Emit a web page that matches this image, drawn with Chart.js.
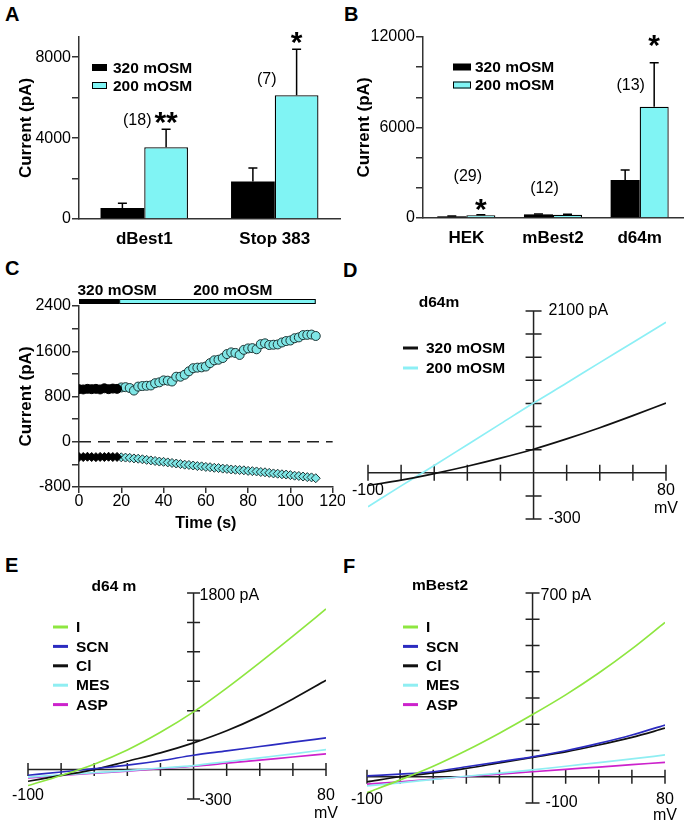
<!DOCTYPE html>
<html>
<head>
<meta charset="utf-8">
<script src="https://cdn.jsdelivr.net/npm/chart.js@4.4.1/dist/chart.umd.min.js"></script>
<style>
body { margin:0; background:#fff; width:687px; height:826px; position:relative; overflow:hidden; }
canvas { position:absolute; }
.letra { position:absolute; font: bold 20px 'Liberation Sans', Arial, sans-serif; line-height:20px; color:#000; }
</style>
</head>
<body>
<div class="letra" style="left:5px;top:4px">A</div>
<div class="letra" style="left:344px;top:4px">B</div>
<div class="letra" style="left:5px;top:258px">C</div>
<div class="letra" style="left:343px;top:260px">D</div>
<div class="letra" style="left:5px;top:555px">E</div>
<div class="letra" style="left:343px;top:556px">F</div>

<canvas id="grafico-a" width="345" height="255" style="left:0;top:0"></canvas>
<canvas id="grafico-b" width="347" height="255" style="left:340px;top:0"></canvas>
<canvas id="grafico-c" width="345" height="275" style="left:0;top:260px"></canvas>
<canvas id="grafico-d" width="347" height="270" style="left:340px;top:260px"></canvas>
<canvas id="grafico-e" width="345" height="286" style="left:0;top:540px"></canvas>
<canvas id="grafico-f" width="347" height="286" style="left:340px;top:540px"></canvas>

<script>
// Painel A
const gruposA = ['dBest1', 'Stop 383'];
const media320A = [550, 1850];
const erro320A = [230, 670];
const media200A = [3550, 6120];
const erro200A = [890, 2280];
const ticksYA = [0, 2000, 4000, 6000, 8000];
const rotulosYA = [0, 4000, 8000];

// Painel B
const gruposB = ['HEK', 'mBest2', 'd64m'];
const media320B = [110, 240, 2520];
const erro320B = [20, 30, 660];
const media200B = [180, 220, 7380];
const erro200B = [40, 30, 2920];
const ticksYB = [0, 2000, 4000, 6000, 8000, 10000, 12000];
const rotulosYB = [0, 6000, 12000];

// Painel C (tempo em s, corrente em pA)
const tempo320 = [0, 2, 4, 6, 8, 10, 12, 14, 16, 18];
const saida320 = [930, 925, 935, 930, 935, 925, 945, 930, 940, 935];
const entrada320 = [-270, -270, -265, -270, -272, -268, -270, -265, -270, -268];
const tempo200 = [20, 22, 24, 26, 28, 30, 32, 34, 36, 38, 40, 42, 44, 46, 48, 50, 52, 54, 56, 58,
    60, 62, 64, 66, 68, 70, 72, 74, 76, 78, 80, 82, 84, 86, 88, 90, 92, 94, 96, 98,
    100, 102, 104, 106, 108, 110, 112];
const saida200 = [960, 965, 950, 905, 975, 985, 990, 995, 1035, 1050, 1085, 1080, 1065, 1150, 1150, 1185, 1245, 1300, 1310, 1315,
    1330, 1390, 1440, 1450, 1480, 1550, 1580, 1570, 1535, 1625, 1650, 1655, 1635, 1725, 1740, 1710, 1715, 1720, 1755, 1780,
    1790, 1830, 1845, 1885, 1890, 1895, 1870];
const entrada200 = [-275, -280, -285, -295, -300, -310, -320, -330, -340, -350, -355, -365, -375, -385, -395, -405, -410, -420, -430, -435,
    -445, -450, -460, -465, -475, -480, -490, -495, -500, -505, -515, -520, -525, -535, -540, -550, -560, -565, -575, -580,
    -590, -600, -605, -615, -625, -630, -645];
const periodos = ['320 mOSM', '200 mOSM'];
const inicioPeriodo = [0, 19];
const fimPeriodo = [19, 112];
const ticksXC = [0, 20, 40, 60, 80, 100, 120];
const ticksYC = [-800, -400, 0, 400, 800, 1200, 1600, 2000, 2400];
const rotulosYC = [-800, 0, 800, 1600, 2400];

// Curvas I-V (mV)
const voltagem = [-100, -80, -60, -40, -20, 0, 20, 40, 60, 80];
const ticksMv = [-100, -80, -60, -40, -20, 0, 20, 40, 60, 80];

// Painel D
const d64m320 = [-165, -95, -10, 85, 190, 306, 440, 585, 742, 905];
const d64m200 = [-440, -170, 95, 365, 635, 905, 1165, 1430, 1690, 1955];
const ticksD = [-600, -300, 0, 300, 600, 900, 1200, 1500, 1800, 2100];

// Painel E (d64 m)
const ionesE = ['I', 'SCN', 'Cl', 'MES', 'ASP'];
const e_I = [-163, -60, 55, 200, 380, 588, 830, 1090, 1360, 1637];
const e_SCN = [-58, -25, 10, 45, 90, 146, 190, 235, 280, 323];
const e_Cl = [-119, -60, 0, 85, 170, 272, 395, 545, 720, 910];
const e_MES = [-78, -55, -32, -10, 15, 41, 80, 120, 160, 204];
const e_ASP = [-85, -60, -37, -15, 10, 34, 65, 97, 128, 160];
const ticksE = [-300, 0, 300, 600, 900, 1200, 1500, 1800];

// Painel F (mBest2)
const f_I = [-61, -12, 40, 100, 166, 237, 312, 395, 487, 588];
const f_SCN = [3, 10, 19, 38, 57, 76, 99, 127, 159, 197];
const f_Cl = [-19, 0, 15, 32, 53, 74, 95, 121, 150, 185];
const f_MES = [-35, -23, -10, 2, 14, 26, 40, 54, 68, 83];
const f_ASP = [-28, -19, -9, 1, 10, 19, 28, 37, 46, 55];
const ticksF = [-100, 0, 100, 200, 300, 400, 500, 600, 700];

const fonte = "'Liberation Sans', Arial, sans-serif";
const ciano = '#80F4F4';
const corIon = ['#8EE640', '#2B2BC0', '#111111', '#8FEEF2', '#CC22CC'];
Chart.defaults.font.family = fonte;
Chart.defaults.color = '#000';
Chart.defaults.animation = false;

function pares(xs, ys) {
    return xs.map((v, i) => ({ x: v, y: ys[i] }));
}

// forca os ticks do eixo a partir de uma lista
function fixarTicks(lista) {
    return s => { s.ticks = lista.map(v => ({ value: v })); };
}

// barras de erro, legenda e anotacoes dos graficos de barra
const extrasBarras = {
    id: 'extrasBarras',
    afterDatasetsDraw(chart, args, o) {
        const ctx = chart.ctx;
        const y = chart.scales.y;
        ctx.save();
        ctx.strokeStyle = '#000';
        ctx.lineWidth = 1.5;
        chart.data.datasets.forEach((ds, i) => {
            chart.getDatasetMeta(i).data.forEach((barra, j) => {
                const topo = y.getPixelForValue(ds.data[j] + ds.erros[j]);
                ctx.beginPath();
                ctx.moveTo(barra.x, barra.y);
                ctx.lineTo(barra.x, topo);
                ctx.moveTo(barra.x - 4.5, topo);
                ctx.lineTo(barra.x + 4.5, topo);
                ctx.stroke();
            });
        });
        // legenda
        const L = o.legenda;
        chart.data.datasets.forEach((ds, i) => {
            const ly = L.y + i * L.passo;
            ctx.fillStyle = ds.backgroundColor;
            ctx.fillRect(L.x, ly - L.alt / 2, L.larg, L.alt);
            if (i > 0) {
                ctx.lineWidth = 1;
                ctx.strokeRect(L.x + 0.5, ly - L.alt / 2 + 0.5, L.larg - 1, L.alt - 1);
            }
            ctx.fillStyle = '#000';
            ctx.font = 'bold 15.5px ' + fonte;
            ctx.textAlign = 'left';
            ctx.textBaseline = 'middle';
            ctx.fillText(ds.label, L.textoX, ly + 1);
        });
        // n e asteriscos
        const x = chart.scales.x;
        o.textos.forEach(t => {
            let px = x.getPixelForValue(t.i) + t.dx;
            if (t.ds !== undefined) px = chart.getDatasetMeta(t.ds).data[t.i].x;
            const py = y.getPixelForValue(t.v);
            ctx.textAlign = 'center';
            if (t.estrela) {
                ctx.font = 'bold 30px ' + fonte;
                ctx.textBaseline = 'alphabetic';
                ctx.fillText(t.t, px, py + 0.57 * 30);
            } else {
                ctx.font = '16px ' + fonte;
                ctx.textBaseline = 'middle';
                ctx.fillText(t.t, px, py);
            }
        });
        ctx.restore();
    }
};

function graficoBarras(id, grupos, m320, e320, m200, e200, cfg) {
    return new Chart(document.getElementById(id), {
        type: 'bar',
        data: {
            labels: grupos,
            datasets: [
                { label: '320 mOSM', data: m320, erros: e320, backgroundColor: '#000', borderColor: '#000', borderWidth: 0 },
                { label: '200 mOSM', data: m200, erros: e200, backgroundColor: ciano, borderColor: '#000', borderWidth: 1.3 }
            ]
        },
        options: {
            responsive: false,
            layout: { padding: { top: 37, right: cfg.dir, left: 0, bottom: 0 } },
            datasets: { bar: { categoryPercentage: 0.67, barPercentage: 1 } },
            plugins: {
                legend: { display: false },
                tooltip: { enabled: false },
                extrasBarras: { legenda: cfg.legenda, textos: cfg.textos }
            },
            scales: {
                x: {
                    grid: { display: false, drawTicks: false },
                    border: { color: '#333', width: 1.5 },
                    ticks: { color: '#000', font: { size: 17, weight: 'bold' }, padding: 10 },
                    afterFit: s => { s.height = cfg.altX; }
                },
                y: {
                    min: 0, max: cfg.max,
                    afterBuildTicks: fixarTicks(cfg.ticks),
                    ticks: {
                        autoSkip: false, color: '#000', font: { size: 16 }, padding: 1,
                        callback: v => cfg.rotulos.includes(v) ? String(v) : ''
                    },
                    grid: { drawOnChartArea: false, tickLength: 7, color: '#333', lineWidth: 1.5 },
                    border: { color: '#333', width: 1.5 },
                    title: { display: true, text: 'Current (pA)', color: '#000', font: { size: 17, weight: 'bold' }, padding: { top: cfg.tituloPad, bottom: 0 } },
                    afterFit: s => { s.width = cfg.largY; }
                }
            }
        },
        plugins: [extrasBarras]
    });
}

graficoBarras('grafico-a', gruposA, media320A, erro320A, media200A, erro200A, {
    max: 9000, ticks: ticksYA, rotulos: rotulosYA, dir: 5, altX: 36, largY: 79, tituloPad: 16,
    legenda: { x: 92, y: 67.5, larg: 15, alt: 7, passo: 18, textoX: 113 },
    textos: [
        { t: '(18)', i: 0, dx: -7, v: 4846 },
        { t: '**', i: 0, ds: 1, v: 5143, estrela: true },
        { t: '(7)', i: 1, dx: -8, v: 6874 },
        { t: '*', i: 1, ds: 1, v: 9099, estrela: true }
    ]
});

graficoBarras('grafico-b', gruposB, media320B, erro320B, media200B, erro200B, {
    max: 12000, ticks: ticksYB, rotulos: rotulosYB, dir: 4, altX: 37, largY: 83, tituloPad: 14,
    legenda: { x: 113, y: 67, larg: 18, alt: 7, passo: 18, textoX: 135 },
    textos: [
        { t: '(29)', i: 0, dx: 1.5, v: 2718 },
        { t: '*', i: 0, ds: 1, v: 1061, estrela: true },
        { t: '(12)', i: 1, dx: -8.5, v: 1923 },
        { t: '(13)', i: 2, dx: -9, v: 8751 },
        { t: '*', i: 2, ds: 1, v: 11967, estrela: true }
    ]
});

// Painel C: linha tracejada em zero e barra de solucao
const extrasTempo = {
    id: 'extrasTempo',
    beforeDatasetsDraw(chart) {
        const { ctx, chartArea, scales: { x, y } } = chart;
        ctx.save();
        ctx.strokeStyle = '#222';
        ctx.lineWidth = 1.4;
        ctx.setLineDash([12, 7]);
        ctx.beginPath();
        ctx.moveTo(chartArea.left, y.getPixelForValue(0));
        ctx.lineTo(chartArea.right, y.getPixelForValue(0));
        ctx.stroke();
        ctx.restore();
    },
    afterDraw(chart) {
        const { ctx, chartArea, scales: { x } } = chart;
        ctx.save();
        const topo = chartArea.top - 7;
        periodos.forEach((p, i) => {
            const x1 = x.getPixelForValue(inicioPeriodo[i]);
            const x2 = x.getPixelForValue(fimPeriodo[i]);
            ctx.fillStyle = i === 0 ? '#000' : ciano;
            ctx.fillRect(x1, topo, x2 - x1, 5);
            ctx.strokeStyle = '#000';
            ctx.lineWidth = 1;
            ctx.strokeRect(x1 + 0.5, topo + 0.5, x2 - x1 - 1, 4);
            ctx.fillStyle = '#000';
            ctx.font = 'bold 15.5px ' + fonte;
            ctx.textAlign = 'left';
            ctx.textBaseline = 'middle';
            ctx.fillText(p, i === 0 ? x1 - 1.5 : x1 + 74, chartArea.top - 15);
        });
        ctx.restore();
    }
};

const borda = '#1d3535';
new Chart(document.getElementById('grafico-c'), {
    type: 'scatter',
    data: {
        datasets: [
            { data: pares(tempo320, saida320), pointStyle: 'circle', pointRadius: 4.5, backgroundColor: '#000', borderColor: '#000', borderWidth: 1 },
            { data: pares(tempo200, saida200), pointStyle: 'circle', pointRadius: 4.5, backgroundColor: '#7FE6E6', borderColor: borda, borderWidth: 1 },
            { data: pares(tempo320, entrada320), pointStyle: 'rectRot', pointRadius: 4.5, backgroundColor: '#000', borderColor: '#000', borderWidth: 1 },
            { data: pares(tempo200, entrada200), pointStyle: 'rectRot', pointRadius: 4.5, backgroundColor: '#7FE6E6', borderColor: borda, borderWidth: 1 }
        ]
    },
    options: {
        responsive: false,
        layout: { padding: { top: 46, right: 6, left: 0, bottom: 0 } },
        plugins: { legend: { display: false }, tooltip: { enabled: false } },
        scales: {
            x: {
                min: 0, max: 120,
                afterBuildTicks: fixarTicks(ticksXC),
                ticks: { autoSkip: false, color: '#000', font: { size: 16 }, padding: -1 },
                grid: { drawOnChartArea: false, tickLength: 6, color: '#333', lineWidth: 1.5 },
                border: { color: '#333', width: 1.5 },
                title: { display: true, text: 'Time (s)', color: '#000', font: { size: 16, weight: 'bold' }, padding: { top: 0, bottom: 2 } },
                afterFit: s => { s.height = 48; }
            },
            y: {
                min: -800, max: 2400,
                afterBuildTicks: fixarTicks(ticksYC),
                ticks: { autoSkip: false, color: '#000', font: { size: 16 }, padding: 1, callback: v => rotulosYC.includes(v) ? String(v) : '' },
                grid: { drawOnChartArea: false, tickLength: 7, color: '#333', lineWidth: 1.5 },
                border: { color: '#333', width: 1.5 },
                title: { display: true, text: 'Current (pA)', color: '#000', font: { size: 17, weight: 'bold' }, padding: { top: 16, bottom: 0 } },
                afterFit: s => { s.width = 79; }
            }
        }
    },
    plugins: [extrasTempo]
});

// eixos cruzados das curvas I-V
const eixosIV = {
    id: 'eixosIV',
    beforeDatasetsDraw(chart, args, o) {
        const { ctx, scales: { x, y } } = chart;
        const x0 = x.getPixelForValue(0), y0 = y.getPixelForValue(0);
        ctx.save();
        ctx.strokeStyle = '#222';
        ctx.lineWidth = 1.5;
        ctx.beginPath();
        ctx.moveTo(x.getPixelForValue(x.min), y0);
        ctx.lineTo(x.getPixelForValue(x.max), y0);
        ctx.moveTo(x0, y.getPixelForValue(y.min));
        ctx.lineTo(x0, y.getPixelForValue(y.max));
        o.ticksX.forEach(v => {
            const px = x.getPixelForValue(v);
            ctx.moveTo(px, y0 - o.traco);
            ctx.lineTo(px, y0 + o.traco);
        });
        o.ticksY.forEach(v => {
            const py = y.getPixelForValue(v);
            ctx.moveTo(x0 - o.traco, py);
            ctx.lineTo(x0 + o.traco, py);
        });
        ctx.stroke();
        ctx.restore();
    },
    afterDraw(chart, args, o) {
        const { ctx, scales: { x, y } } = chart;
        const x0 = x.getPixelForValue(0), y0 = y.getPixelForValue(0);
        ctx.save();
        ctx.fillStyle = '#000';
        ctx.font = '16px ' + fonte;
        ctx.textBaseline = 'middle';
        ctx.textAlign = 'left';
        ctx.fillText(o.rotuloTopo, x0 + o.dxTopo, y.getPixelForValue(y.max) + o.dyTopo);
        ctx.fillText(o.rotuloBase, x0 + o.dxBase, y.getPixelForValue(y.min) + o.dyBase);
        ctx.textAlign = 'center';
        ctx.fillText(String(x.min), x.getPixelForValue(x.min), y0 + o.dyX);
        ctx.fillText(String(x.max), x.getPixelForValue(x.max), y0 + o.dyX);
        ctx.fillText('mV', x.getPixelForValue(x.max), y0 + o.dyMv);
        ctx.font = 'bold 15.5px ' + fonte;
        ctx.fillText(o.titulo, o.tituloX, o.tituloY);
        // legenda
        ctx.textAlign = 'left';
        chart.data.datasets.forEach((ds, i) => {
            const ly = o.legY + i * o.legPasso;
            ctx.strokeStyle = ds.borderColor;
            ctx.lineWidth = 3;
            ctx.beginPath();
            ctx.moveTo(o.legX, ly);
            ctx.lineTo(o.legX + 15, ly);
            ctx.stroke();
            ctx.fillText(ds.label, o.legX + 23, ly + 1);
        });
        ctx.restore();
    }
};

function graficoIV(id, nomes, series, cores, cfg) {
    return new Chart(document.getElementById(id), {
        type: 'line',
        data: {
            datasets: series.map((s, i) => ({
                label: nomes[i], data: pares(voltagem, s), borderColor: cores[i],
                borderWidth: 1.7, pointRadius: 0, cubicInterpolationMode: 'monotone'
            }))
        },
        options: {
            responsive: false,
            layout: { padding: cfg.pad },
            plugins: { legend: { display: false }, tooltip: { enabled: false }, eixosIV: cfg.eixos },
            scales: {
                x: { type: 'linear', display: false, min: -100, max: 80 },
                y: { display: false, min: cfg.ymin, max: cfg.ymax }
            }
        },
        plugins: [eixosIV]
    });
}

graficoIV('grafico-d', ['320 mOSM', '200 mOSM'], [d64m320, d64m200], ['#111111', '#8CEFF5'], {
    pad: { left: 28, right: 21, top: 51, bottom: 11 }, ymin: -600, ymax: 2100,
    eixos: {
        ticksX: ticksMv, ticksY: ticksD, traco: 8,
        rotuloTopo: '2100 pA', dxTopo: 15, dyTopo: 0, rotuloBase: '-300', dxBase: 15, dyBase: 0,
        dyX: 18, dyMv: 36, titulo: 'd64m', tituloX: 99, tituloY: 43,
        legX: 63, legY: 88, legPasso: 20
    }
});

graficoIV('grafico-e', ionesE, [e_I, e_SCN, e_Cl, e_MES, e_ASP], corIon, {
    pad: { left: 28, right: 19, top: 53, bottom: 27 }, ymin: -300, ymax: 1800,
    eixos: {
        ticksX: ticksMv, ticksY: ticksE, traco: 6.5,
        rotuloTopo: '1800 pA', dxTopo: 6, dyTopo: 3, rotuloBase: '-300', dxBase: 6, dyBase: 2,
        dyX: 26, dyMv: 44, titulo: 'd64 m', tituloX: 114, tituloY: 47,
        legX: 53, legY: 87, legPasso: 19.4
    }
});

graficoIV('grafico-f', ionesE, [f_I, f_SCN, f_Cl, f_MES, f_ASP], corIon, {
    pad: { left: 27, right: 22, top: 53, bottom: 23 }, ymin: -100, ymax: 700,
    eixos: {
        ticksX: ticksMv, ticksY: ticksF, traco: 7,
        rotuloTopo: '700 pA', dxTopo: 8, dyTopo: 3, rotuloBase: '-100', dxBase: 13, dyBase: 0,
        dyX: 23, dyMv: 39, titulo: 'mBest2', tituloX: 100, tituloY: 46,
        legX: 63, legY: 87, legPasso: 19.4
    }
});
</script>
</body>
</html>
